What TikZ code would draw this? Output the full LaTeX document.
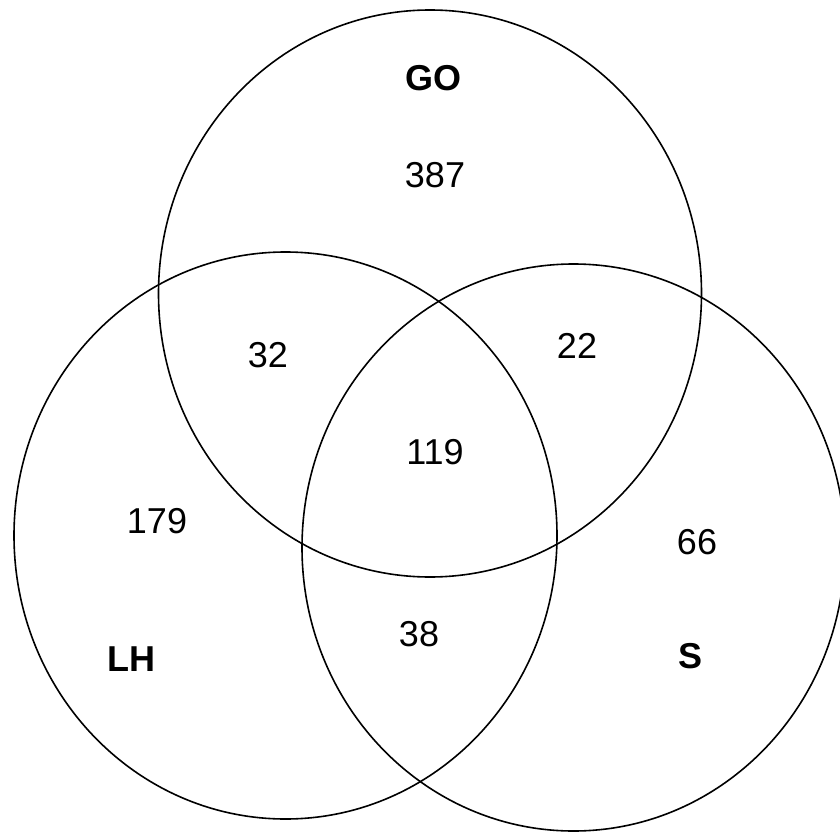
\documentclass[tikz,border=0pt]{standalone}
\usepackage{fontspec}
\setmainfont{Liberation Sans}
\begin{document}
\begin{tikzpicture}[x=1pt,y=-1pt,
  setring/.style={draw=black, line width=1.6pt},
  count/.style={font=\fontsize{36}{40}\selectfont, inner sep=0pt},
  setname/.style={font=\fontsize{36}{40}\selectfont\bfseries, inner sep=0pt}]
  \useasboundingbox (0,0) rectangle (840,832);
  \begin{scope}
    \clip (0,0) rectangle (840,832);
    % the three sets
    \draw[setring] (430,293.5) ellipse [x radius=271.5, y radius=283.5];
    \draw[setring] (285.5,535.5) ellipse [x radius=271.5, y radius=283.5];
    \draw[setring] (573.5,547.5) ellipse [x radius=271.5, y radius=283.5];
  \end{scope}
  % set names
  \node[setname] (go) at (433,78) {GO};
  \node[setname] (lh) at (131,659) {LH};
  \node[setname] (s) at (690,656) {S};
  % region counts
  \node[count] (n387) at (435,175) {387};
  \node[count] (n32) at (268,355) {32};
  \node[count] (n22) at (577,346) {22};
  \node[count] (n119) at (435,452) {119};
  \node[count] (n179) at (157,521) {179};
  \node[count] (n66) at (697,542) {66};
  \node[count] (n38) at (419,634) {38};
\end{tikzpicture}
\end{document}
